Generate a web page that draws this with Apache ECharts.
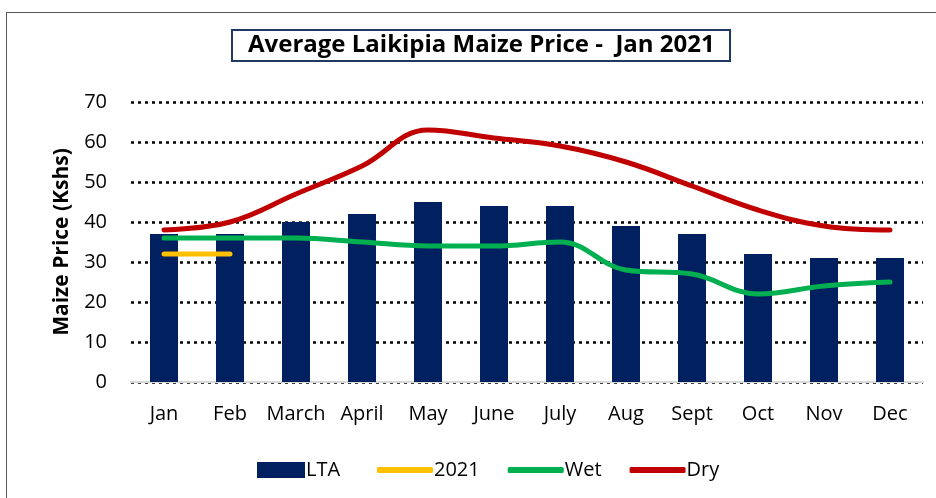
<!DOCTYPE html>
<html>
<head>
<meta charset="utf-8"/>
<script src="https://cdn.jsdelivr.net/npm/echarts@6.0.0/dist/echarts.min.js"></script>
<style>
  html, body { margin: 0; padding: 0; background: #fff; }
  #frame { position: absolute; left: 6px; top: 12px; width: 940px; height: 500px; border: 1px solid #595959; box-sizing: border-box; }
  #main { position: absolute; left: 0; top: 0; width: 936px; height: 498px; }
</style>
</head>
<body>
<div id="frame"></div>
<div id="main"></div>
<script>
  var months = ['Jan', 'Feb', 'March', 'April', 'May', 'June', 'July', 'Aug', 'Sept', 'Oct', 'Nov', 'Dec'];
  var lta = [37, 37, 40, 42, 45, 44, 44, 39, 37, 32, 31, 31];
  var y2021 = [32, 32];
  var wet = [36, 36, 36, 35, 34, 34, 35, 28, 27, 22, 24, 25];
  var dry = [38, 40, 47, 54, 63, 61, 59, 55, 49, 43, 39, 38];

  var font = '"Open Sans", "Noto Sans", sans-serif';
  var chart = echarts.init(document.getElementById('main'));

  function lineSeries(name, data, color) {
    return {
      name: name, type: 'line', data: data, smooth: 0.4,
      showSymbol: false, symbol: 'none',
      lineStyle: { color: color, width: 5, cap: 'round' },
      itemStyle: { color: color }
    };
  }

  var legendText = { fontSize: 20, color: '#000', padding: [0, 0, 0, -4] };

  chart.setOption({
    animation: false,
    textStyle: { fontFamily: font },
    title: {
      text: 'Average Laikipia Maize Price -  Jan 2021',
      left: 232, top: 30,
      padding: [3, 16, 4, 16],
      borderColor: '#1F3864', borderWidth: 2,
      textStyle: { fontFamily: font, fontSize: 24, fontWeight: 'bold', color: '#000' }
    },
    legend: [
      {
        top: 455, left: 252, itemWidth: 48, itemHeight: 16,
        textStyle: legendText,
        data: [{ name: 'LTA', icon: 'rect' }]
      },
      {
        top: 455, left: 372, itemWidth: 56, itemHeight: 6, itemGap: 28,
        textStyle: legendText, icon: 'roundRect',
        data: ['2021', 'Wet', 'Dry']
      }
    ],
    grid: { left: 131, right: 13, top: 102, bottom: 116 },
    xAxis: {
      type: 'category', data: months,
      axisTick: { show: false },
      axisLine: { lineStyle: { color: '#d9d9d9', width: 2 } },
      axisLabel: { fontSize: 20, color: '#000', margin: 22, interval: 0 }
    },
    yAxis: {
      type: 'value', min: 0, max: 70, interval: 10,
      name: 'Maize Price (Kshs)', nameLocation: 'middle', nameGap: 58,
      nameTextStyle: { fontSize: 21, fontWeight: 'bold', color: '#000' },
      axisLabel: { fontSize: 20, color: '#000', margin: 24 },
      splitLine: { lineStyle: { color: '#000', width: 2.5, type: [3, 4] } }
    },
    series: [
      {
        name: 'LTA', type: 'bar', data: lta, barWidth: 28,
        itemStyle: { color: '#002060' }
      },
      lineSeries('2021', y2021, '#FFC000'),
      lineSeries('Wet', wet, '#00B050'),
      lineSeries('Dry', dry, '#C00000')
    ]
  });
</script>
</body>
</html>
